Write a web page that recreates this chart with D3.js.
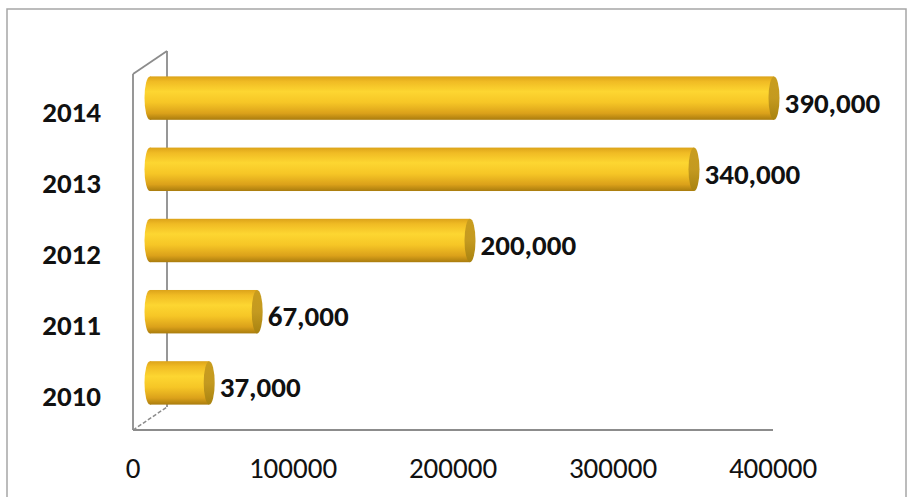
<!DOCTYPE html>
<html><head><meta charset="utf-8">
<script src="https://cdn.jsdelivr.net/npm/d3@7"></script>
<style>
html,body{margin:0;padding:0;background:#fff;}
svg{display:block;}
</style></head>
<body>
<svg id="chart" width="919" height="497"></svg>
<script>
const categories = ["2010", "2011", "2012", "2013", "2014"];
const values = [37000, 67000, 200000, 340000, 390000];
const valueLabels = ["37,000", "67,000", "200,000", "340,000", "390,000"];
const xTicks = [0, 100000, 200000, 300000, 400000];

(function () {
const svg = d3.select("#chart");
const font = "Carlito, 'Open Sans', sans-serif";

// outer border
svg.append("rect").attr("x", 7).attr("y", 9).attr("width", 899).attr("height", 500)
  .attr("fill", "none").attr("stroke", "#a6a6a6").attr("stroke-width", 1.5);

const pLeft = 133, pRight = 773, pTop = 74, pBottom = 430;
const dx = 34, dy = -23; // depth offset
const x = d3.scaleLinear().domain([0, 400000]).range([pLeft, pRight]);
const y = d3.scaleBand().domain(categories.slice().reverse()).range([pTop, pBottom]).paddingInner(0).paddingOuter(0);

const g = svg.append("g");
const lineCol = "#8c8c8c";
// 3D frame
g.append("line").attr("x1", pLeft).attr("y1", pTop).attr("x2", pLeft).attr("y2", pBottom).attr("stroke", lineCol).attr("stroke-width", 1.8);
g.append("line").attr("x1", pLeft).attr("y1", pTop).attr("x2", pLeft + dx).attr("y2", pTop + dy).attr("stroke", lineCol).attr("stroke-width", 1.8);
g.append("line").attr("x1", pLeft + dx).attr("y1", pTop + dy).attr("x2", pLeft + dx).attr("y2", pBottom + dy).attr("stroke", lineCol).attr("stroke-width", 1.8);
g.append("line").attr("x1", pLeft).attr("y1", pBottom).attr("x2", pLeft + dx).attr("y2", pBottom + dy).attr("stroke", lineCol).attr("stroke-width", 1.5).attr("stroke-dasharray", "4,2");
g.append("line").attr("x1", pLeft).attr("y1", pBottom).attr("x2", pRight).attr("y2", pBottom).attr("stroke", lineCol).attr("stroke-width", 2);

// gradients
const defs = svg.append("defs");
const grad = defs.append("linearGradient").attr("id", "cyl").attr("x1", 0).attr("y1", 0).attr("x2", 0).attr("y2", 1);
[[0, "#dca31a"], [0.12, "#f0bb24"], [0.35, "#fdd631"], [0.6, "#f6c626"], [0.85, "#dba11a"], [1, "#a97c0e"]]
  .forEach(([o, c]) => grad.append("stop").attr("offset", o).attr("stop-color", c));
const cap = defs.append("linearGradient").attr("id", "cap").attr("x1", 0).attr("y1", 0).attr("x2", 0).attr("y2", 1);
[[0, "#c99d1e"], [0.5, "#c49a20"], [1, "#a8820f"]]
  .forEach(([o, c]) => cap.append("stop").attr("offset", o).attr("stop-color", c));

const bw = y.bandwidth() * 0.61;
const rx = 5.5;
const mx = dx / 2, my = dy / 2;

const bars = g.selectAll("g.bar").data(categories.map((c, i) => ({c, v: values[i], l: valueLabels[i]})))
  .enter().append("g").attr("class", "bar");
bars.each(function(d) {
  const s = d3.select(this);
  const cy = y(d.c) + y.bandwidth() / 2 + my;
  const x0 = x(0) + mx, x1 = x(d.v) + mx;
  s.append("ellipse").attr("cx", x0).attr("cy", cy).attr("rx", rx).attr("ry", bw / 2).attr("fill", "url(#cyl)");
  s.append("rect").attr("x", x0).attr("y", cy - bw / 2).attr("width", x1 - x0).attr("height", bw).attr("fill", "url(#cyl)");
  s.append("ellipse").attr("cx", x1).attr("cy", cy).attr("rx", rx).attr("ry", bw / 2).attr("fill", "url(#cap)");
  s.append("text").attr("x", x1 + rx + 5).attr("y", cy + 14.5)
    .attr("font-family", font).attr("font-weight", "bold").attr("font-size", 29).attr("fill", "#111")
    .text(d.l);
});

// category labels
g.selectAll("text.cat").data(categories).enter().append("text").attr("class", "cat")
  .attr("x", 101).attr("y", d => y(d) + y.bandwidth() / 2 + 12)
  .attr("text-anchor", "end").attr("font-family", font).attr("font-weight", "bold")
  .attr("font-size", 29).attr("fill", "#111").text(d => d);

// x tick labels
g.selectAll("text.tick").data(xTicks).enter().append("text").attr("class", "tick")
  .attr("x", d => x(d)).attr("y", 478).attr("text-anchor", "middle")
  .attr("font-family", font).attr("font-size", 29).attr("fill", "#111").text(d => d3.format("d")(d));
})();
</script>
</body></html>
